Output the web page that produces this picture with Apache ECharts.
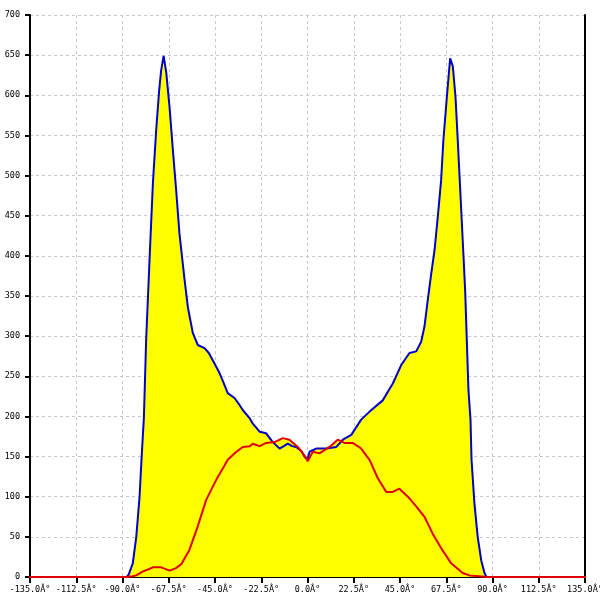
<!DOCTYPE html>
<html>
<head>
<meta charset="utf-8">
<script src="https://cdn.jsdelivr.net/npm/echarts@6/dist/echarts.min.js"></script>
<style>html,body{margin:0;padding:0;background:#fff}#c{width:600px;height:600px}</style>
</head>
<body>
<div id="c"></div>
<script>
var xTicks = [-135, -112.5, -90, -67.5, -45, -22.5, 0, 22.5, 45, 67.5, 90, 112.5, 135];
var xTickLabels = ['-135.0Â°','-112.5Â°','-90.0Â°','-67.5Â°','-45.0Â°','-22.5Â°','0.0Â°','22.5Â°','45.0Â°','67.5Â°','90.0Â°','112.5Â°','135.0Â°'];
var yTicks = [0,50,100,150,200,250,300,350,400,450,500,550,600,650,700];

var blueAngles = [-88,-87,-85,-83.3,-81.7,-80.6,-79.6,-78.5,-76.8,-75.2,-73.6,-72.2,-71.2,-70.0,-68.7,-67.1,-65.5,-63.9,-62.3,-59.8,-58.2,-55.8,-53.4,-50.1,-48,-46.1,-42.8,-41.3,-38.8,-35.5,-33.0,-31.5,-28.2,-26.6,-23.3,-20.1,-16.9,-13.6,-11.5,-9.6,-7.5,-5.5,-3.0,-1.5,0,1.0,4.2,9.1,14.0,17.2,21.3,26.1,30.2,36.6,41.5,45.6,49.6,52.9,55.3,56.9,58.5,60.2,61.8,63.4,65.0,66.1,67.8,69.4,70.7,72.0,73.1,74.3,75.5,76.7,77.5,78.3,79.3,79.8,81.2,82.8,84.5,86.1,87];
var blueValues = [0,3,17,50,100,154,198,295,398,491,557,605,631,649,628,585,532,482,428,370,336,304,289,285,279,270,254,245,229,223,214,208,198,191,181,179,168,160,163,166,163,162,157,150,146,156,160,160,162,171,177,196,206,220,241,264,279,281,293,312,345,378,407,449,494,544,598,646,636,598,544,482,420,357,295,233,196,146,92,50,21,5,0];

var redAngles = [-150,-88,-85,-83.3,-80,-77,-75.2,-71.2,-67.1,-64,-61.4,-57.4,-53.4,-49.3,-44.4,-41,-38.8,-35,-31.5,-28,-26.6,-23.3,-20.1,-16,-12,-8.8,-4.7,-2.5,-0.6,0.1,2.6,5.8,10.7,14.7,18,22,26.1,30.2,34.2,38.3,41.5,44.7,48.8,52.9,56.9,60.9,65,69.9,75.5,78.8,83.7,87,150];
var redValues = [0,0,1,2,7,10,12,12,8,11,16,34,63,96,121,136,146,155,162,163,166,163,167,168,173,171,162,155,148,144,156,154,162,171,167,167,160,146,123,106,106,110,100,88,75,54,36,17,5,2,1,0,0];

function pairs(xs, ys){ return xs.map(function(x,i){ return [x, ys[i]]; }); }
var blueData = pairs(blueAngles, blueValues);
var redData = pairs(redAngles, redValues);

var font = 'DejaVu Sans Mono';
var chart = echarts.init(document.getElementById('c'), null, {renderer:'canvas'});
chart.setOption({
  animation: false,
  backgroundColor: '#ffffff',
  grid: {left: 30, right: 15, top: 15, bottom: 23, containLabel: false, outerBoundsMode: 'none'},
  xAxis: {
    type: 'value', min: xTicks[0], max: xTicks[xTicks.length-1], interval: 22.5,
    axisLine: {show: true, onZero: false, lineStyle: {color: '#000', width: 2}},
    axisTick: {show: true, length: 6, lineStyle: {color: '#000', width: 2}},
    axisLabel: {
      fontFamily: font, fontSize: 8.5, color: '#000', margin: 8,
      showMinLabel: true, showMaxLabel: true, hideOverlap: false,
      formatter: function(v){ var i = xTicks.indexOf(v); return i >= 0 ? xTickLabels[i] : ''; }
    },
    splitLine: {show: true, lineStyle: {color: '#c8c8c8', type: [3,3], width: 1}}
  },
  yAxis: [{
    type: 'value', min: yTicks[0], max: yTicks[yTicks.length-1], interval: 50, position: 'left',
    axisLine: {show: true, onZero: false, lineStyle: {color: '#000', width: 2}},
    axisTick: {show: true, length: 5, lineStyle: {color: '#000', width: 2}},
    axisLabel: {fontFamily: font, fontSize: 8.5, color: '#000', margin: 10},
    splitLine: {show: true, lineStyle: {color: '#c8c8c8', type: [3,3], width: 1}}
  },{
    type: 'value', min: yTicks[0], max: yTicks[yTicks.length-1], interval: 50, position: 'right',
    axisLine: {show: true, onZero: false, lineStyle: {color: '#000', width: 2}},
    axisTick: {show: false}, axisLabel: {show: false}, splitLine: {show: false}
  }],
  series: [
    {type: 'line', data: blueData, showSymbol: false, z: 1, lineStyle: {width: 0}, areaStyle: {color: '#ffff00', opacity: 1}},
    {type: 'line', data: redData, showSymbol: false, z: 1, lineStyle: {width: 0}, areaStyle: {color: '#ffff00', opacity: 1}},
    {type: 'line', data: blueData, showSymbol: false, z: 3, clip: false, lineStyle: {color: '#0000cc', width: 2}},
    {type: 'line', data: redData, showSymbol: false, z: 4, clip: false, lineStyle: {color: '#e00000', width: 2}}
  ]
});
</script>
</body>
</html>
